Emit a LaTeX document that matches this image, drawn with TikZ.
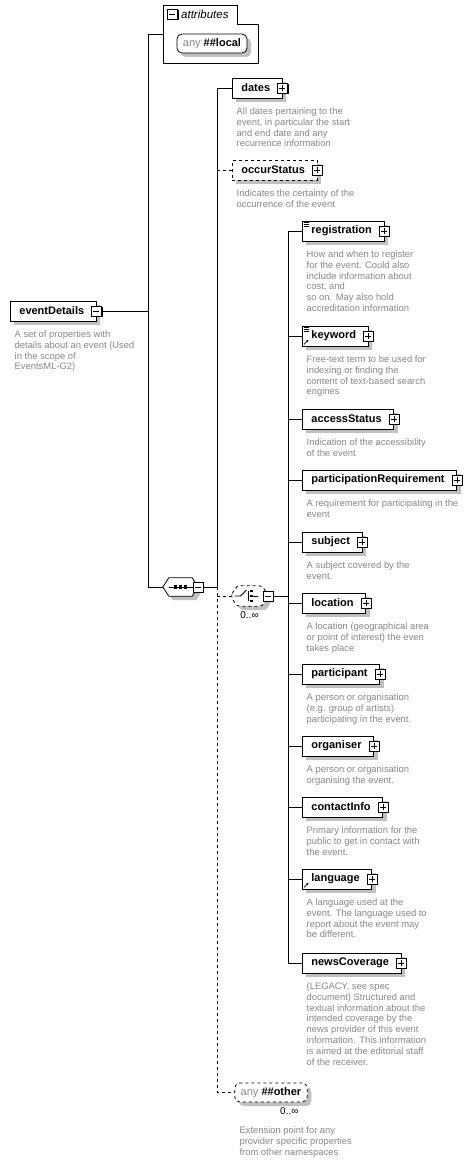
\documentclass[tikz,border=0pt]{standalone}
\usepackage{fontspec}
\setmainfont{Liberation Sans}
\usetikzlibrary{arrows.meta,positioning,shadows}
\definecolor{desc}{HTML}{888888}
\definecolor{shd}{HTML}{C0C0C0}
\newcommand{\lblfont}{\fontsize{11}{13}\selectfont\bfseries}
\newcommand{\dscfont}{\fontsize{9.4}{10.8}\selectfont}
\newcommand{\anytxt}{{\color{desc}\mdseries any}}
\tikzset{
  conn/.style={line width=0.8pt},
  shdw/.style={drop shadow={shadow xshift=4pt,shadow yshift=-4pt,fill=shd,opacity=1}},
  elem/.style={draw,fill=white,line width=0.8pt,minimum height=20pt,inner ysep=0pt,inner xsep=9pt,
    anchor=west,font=\lblfont,execute at end node={\hspace{3pt}},shdw},
  optelem/.style={elem,dashed},
  btn/.style={draw,fill=white,line width=0.8pt,minimum size=10pt,inner sep=0pt,
    drop shadow={shadow xshift=1pt,shadow yshift=-1pt,fill=black,opacity=1}},
  dsc/.style={below right=9pt and 4.5pt of #1.south west,inner sep=0pt,align=left,font=\dscfont,text=desc},
  anybox/.style={draw,fill=white,line width=0.8pt,rounded corners=5pt,minimum height=19pt,inner ysep=0pt,
    inner xsep=6pt,font=\lblfont,shdw},
  comp/.style={minimum width=#1,minimum height=18pt,inner sep=0pt},
  compline/.style={conn,fill=white,shdw},
  card/.style={font=\fontsize{10}{12}\selectfont,inner sep=0pt},
}
\begin{document}
\begin{tikzpicture}[x=1pt,y=-1pt]
\useasboundingbox[fill=white] (0,0) rectangle (476,1161);
% attributes group
\draw[conn,fill=white] (163,5) -- (237,5) -- (237,24) -- (258,24) -- (258,63) -- (163,63) -- cycle;
\node[btn] (attr-b) at (172.5,14.5) {};
\draw[conn] (attr-b.west) ++(2,0) -- ++(6,0);
\node[anchor=west,inner sep=0pt,font=\fontsize{11.5}{13}\selectfont\itshape] (attr-l) at (181,14.5) {attributes};
\node[anybox] (local) at (212,43.5) {\anytxt\ \#\#local};
\coordinate (attr) at (163,34);

% root element
\node[elem] (ed) at (10,311) {eventDetails};
\node[dsc=ed] (ed-d) {A set of properties with\\details about an event (Used\\in the scope of\\EventsML-G2)};
\node[btn] (ed-b) at (ed.east) {};
\draw[conn] (ed-b.west) ++(2,0) -- ++(6,0);

% sequence
\node[comp=35pt] (seq) at (180.5,587) {};
\draw[compline] (seq.west) -- ([xshift=6pt]seq.north west) -- ([xshift=-6pt]seq.north east)
  -- (seq.east) -- ([xshift=-6pt]seq.south east) -- ([xshift=6pt]seq.south west) -- cycle;
\draw[conn] (seq.center) ++(-12,0) -- ++(24,0);
\foreach \dx in {-5,0,5}
  \fill (seq.center) ++(\dx-1.6,-1.6) rectangle ++(3.2,3.2);
\node[btn] (seq-b) at (seq.east) {};
\draw[conn] (seq-b.west) ++(2,0) -- ++(6,0);

\coordinate (ej) at (148,311);
\draw[conn] (ed-b.east) -- (ej) |- (attr);
\draw[conn] (ej) |- (seq.west);

% first elements
\node[elem] (dates) at (232,88) {dates};
\node[dsc=dates] (dates-d) {All dates pertaining to the\\event, in particular the start\\and end date and any\\recurrence information};
\node[optelem] (occur) at (232,170) {occurStatus};
\node[dsc=occur] (occur-d) {Indicates the certainty of the\\occurrence of the event};

% choice
\node[comp=37pt,minimum height=20pt] (choice) at (249.5,596) {};
\draw[compline,dashed,rounded corners=3pt] (choice.west) -- ([xshift=6pt]choice.north west)
  -- ([xshift=-6pt]choice.north east) -- (choice.east) -- ([xshift=-6pt]choice.south east)
  -- ([xshift=6pt]choice.south west) -- cycle;
\draw[conn] (choice.center) ++(-15,0) -- ++(6,0) -- ++(6,-6);
\draw[conn] (choice.center) ++(-1,-5) -- ++(0,10);
\foreach \dy in {-5,0,5}
  \fill (choice.center) ++(0,\dy-1) rectangle ++(3,2);
\draw[conn] (choice.center) ++(3,0) -- ++(5,0);
\node[btn] (choice-b) at (choice.east) {};
\draw[conn] (choice-b.west) ++(2,0) -- ++(6,0);
\node[card,below=5pt of choice] (choice-c) {0..∞};

% choice elements
\node[elem] (reg) at (302,231) {registration};
\node[dsc=reg] (reg-d) {How and when to register\\for the event. Could also\\include information about\\cost, and\\so on. May also hold\\accreditation information};
\node[elem] (kw) at (302,336) {keyword};
\node[dsc=kw] (kw-d) {Free-text term to be used for\\indexing or finding the\\content of text-based search\\engines};
\node[elem] (access) at (302,419) {accessStatus};
\node[dsc=access] (access-d) {Indication of the accessibility\\of the event};
\node[elem] (partreq) at (302,480) {participationRequirement};
\node[dsc=partreq] (partreq-d) {A requirement for participating in the\\event};
\node[elem] (subj) at (302,542) {subject};
\node[dsc=subj] (subj-d) {A subject covered by the\\event.};
\node[elem] (loc) at (302,603) {location};
\node[dsc=loc] (loc-d) {A location (geographical area\\or point of interest) the even\\takes place};
\node[elem] (part) at (302,674) {participant};
\node[dsc=part] (part-d) {A person or organisation\\(e.g. group of artists)\\participating in the event.};
\node[elem] (org) at (302,746) {organiser};
\node[dsc=org] (org-d) {A person or organisation\\organising the event.};
\node[elem] (contact) at (302,807) {contactInfo};
\node[dsc=contact] (contact-d) {Primary information for the\\public to get in contact with\\the event.};
\node[elem] (lang) at (302,879) {language};
\node[dsc=lang] (lang-d) {A language used at the\\event. The language used to\\report about the event may\\be different.};
\node[elem] (news) at (302,963) {newsCoverage};
\node[dsc=news] (news-d) {(LEGACY, see spec\\document) Structured and\\textual information about the\\intended coverage by the\\news provider of this event\\information. This information\\is aimed at the editorial staff\\of the receiver.};

% content icons
\foreach \n in {reg,kw}
  \foreach \dy in {2,4,6}
    \draw[line width=0.6pt] (\n.north west) ++(1.5,\dy) -- ++(5,0);
\foreach \n in {kw,lang}
  \draw[line width=0.7pt,-{Stealth[length=2.5pt,width=2.5pt]}] (\n.south west) ++(2,-2) -- ++(4.5,-4.5);

% wildcard
\node[anybox,dashed] (other) at (271,1092.5) {\anytxt\ \#\#other};
\node[card,below left=5pt and 9pt of other.south east] (other-c) {0..∞};
\node[dsc=other,below right=24pt and 5pt of other.south west] (other-d) {Extension point for any\\provider specific properties\\from other namespaces};

% plus buttons
\foreach \n in {dates,occur,reg,kw,access,partreq,subj,loc,part,org,contact,lang,news} {
  \node[btn] (\n-b) at (\n.east) {};
  \draw[conn] (\n-b.west) ++(2,0) -- ++(6,0) (\n-b.north) ++(0,2) -- ++(0,6);
}

% connectors
\coordinate (sj) at (217,587);
\draw[conn] (seq-b.east) -- (sj) |- (dates.west);
\draw[conn,dashed] (occur.west) -- (occur.west -| sj);
\draw[conn,dashed] (sj) |- (other.west);
\draw[conn,dashed] (sj |- choice.west) -- (choice.west);
\coordinate (cj) at (288,596);
\draw[conn] (choice-b.east) -- (cj);
\foreach \n in {reg,kw,access,partreq,subj,loc,part,org,contact,lang,news}
  \draw[conn] (cj) |- (\n.west);
\end{tikzpicture}
\end{document}
